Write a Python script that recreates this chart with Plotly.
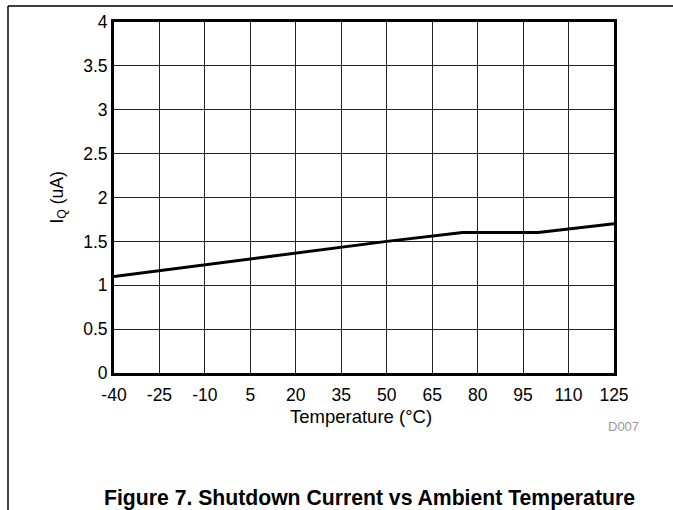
import plotly.graph_objects as go

temps = [-40, 5, 50, 75, 100, 125]
iq_ua = [1.1, 1.3, 1.5, 1.6, 1.6, 1.7]
x_ticks = [-40, -25, -10, 5, 20, 35, 50, 65, 80, 95, 110, 125]
y_ticks = [0, 0.5, 1, 1.5, 2, 2.5, 3, 3.5, 4]
y_tick_labels = ["0", "0.5", "1", "1.5", "2", "2.5", "3", "3.5", "4"]

FONT = "Liberation Sans, Arial, sans-serif"

fig = go.Figure()
fig.add_trace(go.Scatter(x=temps, y=iq_ua, mode="lines",
                         line=dict(color="black", width=3), showlegend=False))

fig.update_layout(
    width=673, height=510,
    margin=dict(l=114, r=59, t=20, b=137),
    paper_bgcolor="white", plot_bgcolor="white",
    font=dict(family=FONT, color="black", size=17.5),
    xaxis=dict(range=[-40, 125], tickvals=x_ticks, ticktext=[str(t) for t in x_ticks],
               showgrid=True, gridcolor="#222", gridwidth=1, zeroline=False,
               showline=True, linecolor="black", linewidth=3, mirror=True,
               ticks="", tickfont=dict(size=17.5), ticklabelstandoff=4),
    yaxis=dict(range=[0, 4], tickvals=y_ticks, ticktext=y_tick_labels,
               showgrid=True, gridcolor="#222", gridwidth=1, zeroline=False,
               showline=True, linecolor="black", linewidth=3, mirror=True,
               ticks="", tickfont=dict(size=17.5)),
    annotations=[
        dict(text="Temperature (°C)", xref="paper", yref="paper", x=0.494, y=-0.125,
             showarrow=False, font=dict(size=18.5), xanchor="center", yanchor="middle"),
        dict(text="I<sub>Q</sub> (uA)", xref="paper", yref="paper", x=-0.112, y=0.5,
             textangle=-90, showarrow=False, font=dict(size=17.5),
             xanchor="center", yanchor="middle"),
        dict(text="D007", xref="paper", yref="paper", x=1.054, y=-0.153,
             showarrow=False, font=dict(size=13, color="#999"),
             xanchor="right", yanchor="middle"),
        dict(text="<b>Figure 7. Shutdown Current vs Ambient Temperature</b>",
             xref="paper", yref="paper", x=0.51, y=-0.355, showarrow=False,
             font=dict(size=21.2), xanchor="center", yanchor="middle"),
    ],
    shapes=[
        dict(type="line", xref="paper", yref="paper", x0=-0.212, x1=1.2, y0=1.0453, y1=1.0453,
             line=dict(color="black", width=1.5)),
        dict(type="line", xref="paper", yref="paper", x0=-0.212, x1=-0.212, y0=1.0453, y1=-0.4,
             line=dict(color="black", width=1.5)),
    ],
)

fig.write_html("out.html", config={"displayModeBar": False},
               post_script="document.body.style.margin='0';")
